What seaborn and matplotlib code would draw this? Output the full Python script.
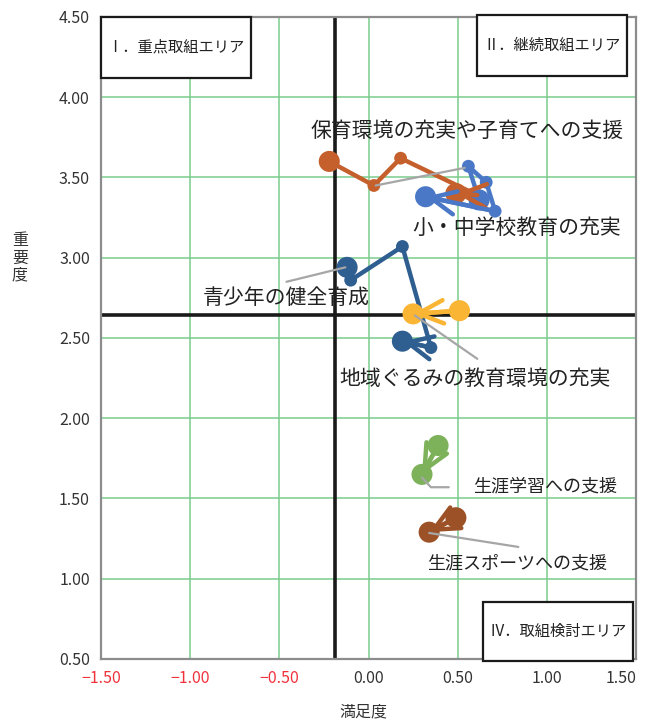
import matplotlib
matplotlib.use("Agg")
import matplotlib.pyplot as plt
import numpy as np
import pandas as pd
import seaborn as sns
from matplotlib.patches import Rectangle

# series: name, satisfaction (x) and importance (y), oldest point first
SERIES = [
    "保育環境の充実や子育てへの支援",
    "小・中学校教育の充実",
    "青少年の健全育成",
    "地域ぐるみの教育環境の充実",
    "生涯学習への支援",
    "生涯スポーツへの支援",
]
X_VALUES = [
    [-0.22, 0.03, 0.18, 0.61, 0.49],
    [0.62, 0.56, 0.66, 0.71, 0.32],
    [-0.12, -0.10, 0.19, 0.35, 0.19],
    [0.51, 0.25],
    [0.39, 0.30],
    [0.49, 0.34],
]
Y_VALUES = [
    [3.60, 3.45, 3.62, 3.39, 3.40],
    [3.36, 3.57, 3.47, 3.29, 3.38],
    [2.94, 2.86, 3.07, 2.44, 2.48],
    [2.67, 2.65],
    [1.83, 1.65],
    [1.38, 1.29],
]
COLORS = ["#C55F2C", "#4A78C6", "#2F5F90", "#FBB534", "#7DB25A", "#9C5226"]

X_TICKS = [-1.5, -1.0, -0.5, 0.0, 0.5, 1.0, 1.5]
Y_TICKS = [0.5, 1.0, 1.5, 2.0, 2.5, 3.0, 3.5, 4.0, 4.5]
MEAN_X = -0.19
MEAN_Y = 2.64

AREAS = ["Ⅰ．重点取組エリア", "Ⅱ．継続取組エリア", "Ⅳ．取組検討エリア"]

rows = []
for name, xs, ys in zip(SERIES, X_VALUES, Y_VALUES):
    for i, (x, y) in enumerate(zip(xs, ys)):
        big = i == 0 or i == len(xs) - 1
        rows.append({"series": name, "order": i, "x": x, "y": y, "big": big})
df = pd.DataFrame(rows)

sns.set_theme(style="white")
plt.rcParams["font.family"] = ["Noto Sans CJK JP", "DejaVu Sans"]

fig = plt.figure(figsize=(6.49, 7.22), dpi=100)
ax = fig.add_axes([0.1556, 0.0873, 0.8244, 0.8892])

ax.set_xlim(-1.5, 1.5)
ax.set_ylim(0.5, 4.5)
ax.set_xticks(X_TICKS)
ax.set_yticks(Y_TICKS)
ax.grid(True, color="#7ACB8C", lw=1.1)
ax.set_axisbelow(True)
for s in ax.spines.values():
    s.set_color("#8C8C8C")
    s.set_linewidth(1.6)

ax.axvline(MEAN_X, color="#1A1A1A", lw=2.6, zorder=2)
ax.axhline(MEAN_Y, color="#1A1A1A", lw=2.6, zorder=2)

palette = dict(zip(SERIES, COLORS))
sns.lineplot(data=df, x="x", y="y", hue="series", palette=palette, sort=False,
             estimator=None, units="series", lw=3.2, legend=False, ax=ax, zorder=3)
sns.scatterplot(data=df[~df["big"]], x="x", y="y", hue="series", palette=palette,
                s=85, linewidth=0, legend=False, ax=ax, zorder=4)
sns.scatterplot(data=df[df["big"]], x="x", y="y", hue="series", palette=palette,
                s=230, linewidth=0, legend=False, ax=ax, zorder=4)

# arrow heads on the last segment of every series
for name, xs, ys, c in zip(SERIES, X_VALUES, Y_VALUES, COLORS):
    ax.annotate("", xy=(xs[-1], ys[-1]), xytext=(xs[-2], ys[-2]),
                arrowprops=dict(arrowstyle="->,head_length=1.5,head_width=0.7",
                                color=c, lw=3.2, shrinkA=0, shrinkB=0),
                zorder=5)

# leader lines
leaders = [
    [(0.04, 3.45), (0.54, 3.56)],
    [(-0.46, 2.85), (-0.13, 2.94)],
    [(0.26, 2.64), (0.61, 2.37)],
    [(0.30, 1.63), (0.35, 1.57), (0.45, 1.57)],
    [(0.34, 1.285), (0.84, 1.198)],
]
for pts in leaders:
    px, py = zip(*pts)
    ax.plot(px, py, color="#A6A6A6", lw=1.6, zorder=6)

label_pos = [(0.55, 3.79), (0.83, 3.185), (-0.46, 2.75), (0.595, 2.245), (0.99, 1.572), (0.835, 1.098)]
label_size = [15, 15, 15, 15, 13, 13]
for name, (lx, ly), fs in zip(SERIES, label_pos, label_size):
    ax.text(lx, ly, name, ha="center", va="center", fontsize=fs, color="#222222", zorder=7)

# quadrant boxes (axes fraction)
boxes = [(0.0, 0.905, 0.28, 0.095), (0.703, 0.908, 0.28, 0.095), (0.714, -0.003, 0.28, 0.092)]
for (bx, by, bw, bh), txt in zip(boxes, AREAS):
    ax.add_patch(Rectangle((bx, by), bw, bh, transform=ax.transAxes, facecolor="white",
                           edgecolor="#1A1A1A", lw=1.6, zorder=8, clip_on=False))
    ax.text(bx + bw / 2, by + bh / 2, txt, transform=ax.transAxes, ha="center", va="center",
            fontsize=11, color="#222222", zorder=9)

ax.set_xticklabels([f"{v:.2f}".replace("-", "\u2212") if v < 0 else f"{v:.2f}" for v in X_TICKS])
ax.set_yticklabels([f"{v:.2f}" for v in Y_TICKS])
ax.tick_params(axis="both", labelsize=11.5, colors="#333333", length=0, pad=8)
for lab, v in zip(ax.get_xticklabels(), X_TICKS):
    lab.set_color("#F0323C" if v < 0 else "#333333")
ax.get_xticklabels()[-1].set_horizontalalignment("right")
ax.get_xticklabels()[-1].set_x(1.5)
ax.set_xlabel("")
ax.set_ylabel("")

fig.text(363 / 649, 1 - 712 / 722, "満足度", ha="center", va="center", fontsize=11.5, color="#333333")
fig.text(20 / 649, 1 - 258 / 722, "重\n要\n度", ha="center", va="center", fontsize=11.5,
         color="#333333", linespacing=1.0)

fig.savefig("out.png", dpi=100)
